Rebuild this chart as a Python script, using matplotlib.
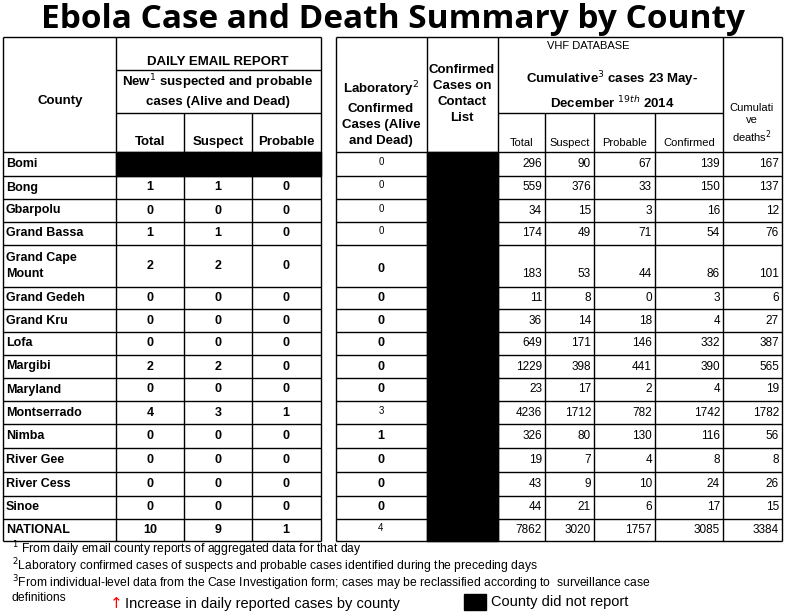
import matplotlib
matplotlib.use("Agg")
import matplotlib.pyplot as plt
from matplotlib.patches import Rectangle

counties = ["Bomi","Bong","Gbarpolu","Grand Bassa","Grand Cape\nMount","Grand Gedeh","Grand Kru","Lofa",
            "Margibi","Maryland","Montserrado","Nimba","River Gee","River Cess","Sinoe","NATIONAL"]
new_total =   [None,1,0,1,2,0,0,0,2,0,4,0,0,0,0,10]
new_suspect = [None,1,0,1,2,0,0,0,2,0,3,0,0,0,0,9]
new_probable =[None,0,0,0,0,0,0,0,0,0,1,0,0,0,0,1]
lab_confirmed=[0,0,0,0,0,0,0,0,0,0,3,1,0,0,0,4]
lab_small =   [1,1,1,1,0,0,0,0,0,0,1,0,0,0,0,1]
vhf_total =   [296,559,34,174,183,11,36,649,1229,23,4236,326,19,43,44,7862]
vhf_suspect = [90,376,15,49,53,8,14,171,398,17,1712,80,7,9,21,3020]
vhf_probable= [67,33,3,71,44,0,18,146,441,2,782,130,4,10,6,1757]
vhf_confirmed=[139,150,16,54,86,3,4,332,390,4,1742,116,8,24,17,3085]
deaths =      [167,137,12,76,101,6,27,387,565,19,1782,56,8,26,15,3384]

fig = plt.figure(figsize=(8.09,6.12), dpi=100)
ax = fig.add_axes([0,0,1,1])
ax.set_xlim(0,809); ax.set_ylim(612,0); ax.axis("off")
F = "Liberation Sans"
lw = 1.0
def hl(y,x0,x1,w=lw): ax.plot([x0,x1],[y,y],color="black",lw=w,solid_capstyle="butt")
def vl(x,y0,y1,w=lw): ax.plot([x,x],[y0,y1],color="black",lw=w,solid_capstyle="butt")

ax.text(393,19,"Ebola Case and Death Summary by County",ha="center",va="center",fontsize=24,
        fontweight="bold",family="Open Sans")

cols = [3,116,184,252,321,336,427,498,545,594,655,723,782]
top, hb = 37, 152
rows = [152,176,199,222,245,287,309,332,355,378,401,424,448,472,496,519,541]

for i in range(len(counties)):
    if new_total[i] is None:
        ax.add_patch(Rectangle((116,rows[i]),321-116,rows[i+1]-rows[i],color="black"))
ax.add_patch(Rectangle((427,hb),498-427,rows[-1]-hb,color="black"))

hl(top,3,321); hl(top,336,782)
for y in rows:
    hl(y,3,321); hl(y,336,782)
hl(70,116,321); hl(113,116,321); hl(113,498,723)
for x in [3,116,321,336,427,498,782]:
    vl(x,top,rows[-1])
vl(723,top,rows[-1])
for x in [184,252]: vl(x,113,rows[-1])
for x in [545,594,655]: vl(x,113,rows[-1])

hb_kw = dict(fontsize=9.5,fontweight="bold",family=F,ha="center",va="center")
ax.text(60,101,"County",**hb_kw)
ax.text(218,62,"DAILY EMAIL REPORT",**hb_kw)
ax.text(218,90,"New$^{1}$ suspected and probable\ncases (Alive and Dead)",linespacing=1.4,**hb_kw)
ax.text(150,142,"Total",**hb_kw); ax.text(218,142,"Suspect",**hb_kw); ax.text(286,142,"Probable",**hb_kw)
ax.text(381,113,"Laboratory$^{2}$\nConfirmed\nCases (Alive\nand Dead)",linespacing=1.45,**hb_kw)
ax.text(462,94,"Confirmed\nCases on\nContact\nList",linespacing=1.45,**hb_kw)
ax.text(588,46,"VHF DATABASE",fontsize=8,family=F,ha="center",va="center")
ax.text(612,90,"Cumulative$^{3}$ cases 23 May-\nDecember $^{19th}$ 2014",linespacing=1.5,**hb_kw)
sk = dict(fontsize=8,family=F,ha="center",va="center")
for x0,x1,t in zip(cols[7:11],cols[8:12],["Total","Suspect","Probable","Confirmed"]):
    ax.text((x0+x1)/2,143,t,**sk)
ax.text(752,124,"Cumulati\nve\ndeaths$^{2}$",linespacing=1.3,**sk)

bk = dict(fontsize=9,fontweight="bold",family=F,va="center")
nk = dict(fontsize=8.5,family=F,va="center",ha="right")
for i,c in enumerate(counties):
    yc = (rows[i]+rows[i+1])/2
    ax.text(6,yc,c,ha="left",linespacing=1.5,**bk)
    if new_total[i] is not None:
        for x,v in zip([150,218,286],[new_total[i],new_suspect[i],new_probable[i]]):
            ax.text(x,yc,str(v),ha="center",**bk)
    if lab_small[i]:
        ax.text(381,yc-2,str(lab_confirmed[i]),ha="center",fontsize=7,family=F,va="center")
    else:
        ax.text(381,yc+3 if i==4 else yc,str(lab_confirmed[i]),ha="center",**bk)
    yn = yc+8 if i==4 else yc
    for x1,v in zip(cols[8:13],[vhf_total[i],vhf_suspect[i],vhf_probable[i],vhf_confirmed[i],deaths[i]]):
        ax.text(x1-3,yn,str(v),**nk)

fk = dict(fontsize=8.7,family=F,va="center",ha="left")
ax.text(12,549,"$^{1}$ From daily email county reports of aggregated data for that day",**fk)
ax.text(12,566,"$^{2}$Laboratory confirmed cases of suspects and probable cases identified during the preceding days",**fk)
ax.text(12,583,"$^{3}$From individual-level data from the Case Investigation form; cases may be reclassified according to  surveillance case",**fk)
ax.text(12,598,"definitions",**fk)
ax.text(110,604,"↑",color="red",fontsize=11,family="DejaVu Sans",va="center",ha="left")
ax.text(125,604,"Increase in daily reported cases by county",fontsize=10.5,family=F,va="center")
ax.add_patch(Rectangle((464,594),22,16,color="black"))
ax.text(491,602,"County did not report",fontsize=10.5,family=F,va="center")
fig.savefig("out.png",dpi=100)
